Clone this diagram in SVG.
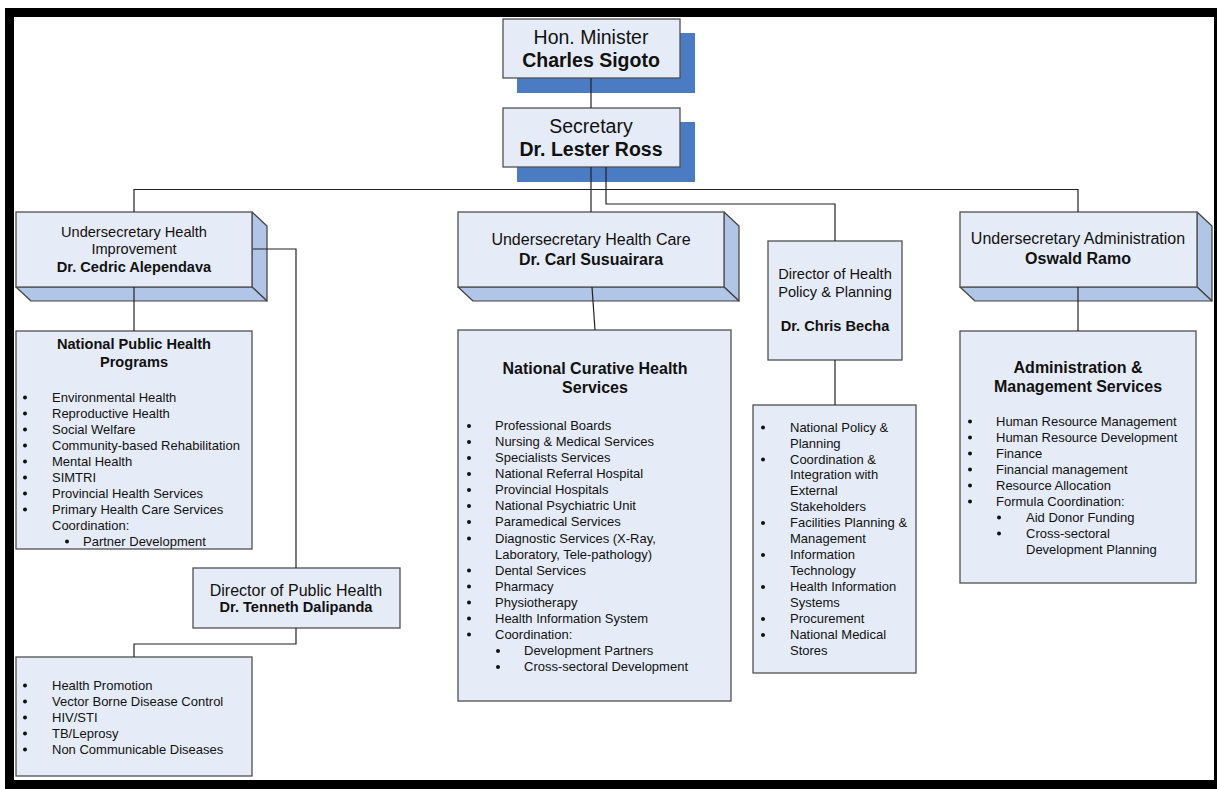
<svg xmlns="http://www.w3.org/2000/svg" width="1217" height="789" viewBox="0 0 1217 789">
<style>
text{font-family:"Liberation Sans",Arial,Helvetica,sans-serif;fill:#111}
.c{text-anchor:middle}
.b{font-weight:bold}
.li{font-size:13px}
.box{fill:#E6ECF7;stroke:#505050;stroke-width:1.3}
.side{fill:#B1C5E6;stroke:#404040;stroke-width:1.2;stroke-linejoin:round}
.sh{fill:#4A7BC3}
.ln{fill:none;stroke:#222;stroke-width:1.2}
.dot{fill:#111}
</style>
<defs>
<circle id="bu" r="2" class="dot"/>
</defs>
<rect x="0" y="0" width="1217" height="789" fill="#fff"/>
<rect x="9.5" y="12.5" width="1209" height="772" fill="none" stroke="#000" stroke-width="9"/>

<g id="minister">
<rect class="sh" x="517" y="33" width="178" height="60"/>
<rect class="box" x="503" y="19" width="177" height="59"/>
<text class="c" x="591" y="44" font-size="19.5">Hon. Minister</text>
<text class="c b" x="591" y="67" font-size="19.5">Charles Sigoto</text>
</g>

<g id="secretary">
<rect class="sh" x="517" y="122" width="178" height="60"/>
<rect class="box" x="503" y="108" width="177" height="59"/>
<text class="c" x="591" y="133" font-size="19.5">Secretary</text>
<text class="c b" x="591" y="156" font-size="19.5">Dr. Lester Ross</text>
</g>

<g id="us-health-improvement">
<polygon class="side" points="252,212 267,226 267,301 252,287"/>
<polygon class="side" points="16,287 252,287 267,301 31,301"/>
<rect class="box" x="16" y="212" width="236" height="75"/>
<text class="c" x="134" y="237" font-size="14.6">Undersecretary Health</text>
<text class="c" x="134" y="254" font-size="14.6">Improvement</text>
<text class="c b" x="134" y="272" font-size="14.6">Dr. Cedric Alependava</text>
</g>

<g id="us-health-care">
<polygon class="side" points="724,212 739,226 739,301 724,287"/>
<polygon class="side" points="458,287 724,287 739,301 473,301"/>
<rect class="box" x="458" y="212" width="266" height="75"/>
<text class="c" x="591" y="244.5" font-size="16">Undersecretary Health Care</text>
<text class="c b" x="591" y="264.5" font-size="16">Dr. Carl Susuairara</text>
</g>

<g id="us-administration">
<polygon class="side" points="1197,212 1212,226 1212,301 1197,287"/>
<polygon class="side" points="960,287 1197,287 1212,301 975,301"/>
<rect class="box" x="960" y="212" width="237" height="75"/>
<text class="c" x="1078" y="243.5" font-size="16">Undersecretary Administration</text>
<text class="c b" x="1078" y="263.5" font-size="16">Oswald Ramo</text>
</g>

<g id="dir-health-policy">
<rect class="box" x="768" y="241" width="134" height="119"/>
<text class="c" x="835" y="279" font-size="14.6">Director of Health</text>
<text class="c" x="835" y="297" font-size="14.6">Policy &amp; Planning</text>
<text class="c b" x="835" y="331" font-size="14.6">Dr. Chris Becha</text>
</g>

<g id="national-public-health">
<rect class="box" x="16" y="331" width="236" height="218"/>
<text class="c b" x="134" y="349" font-size="14.6">National Public Health</text>
<text class="c b" x="134" y="367" font-size="14.6">Programs</text>
<use href="#bu" x="25" y="397.5"/><text class="li" x="52" y="401.5">Environmental Health</text>
<use href="#bu" x="25" y="413.5"/><text class="li" x="52" y="417.5">Reproductive Health</text>
<use href="#bu" x="25" y="429.5"/><text class="li" x="52" y="433.5">Social Welfare</text>
<use href="#bu" x="25" y="445.5"/><text class="li" x="52" y="449.5">Community-based Rehabilitation</text>
<use href="#bu" x="25" y="461.5"/><text class="li" x="52" y="465.5">Mental Health</text>
<use href="#bu" x="25" y="477.5"/><text class="li" x="52" y="481.5">SIMTRI</text>
<use href="#bu" x="25" y="493.5"/><text class="li" x="52" y="497.5">Provincial Health Services</text>
<use href="#bu" x="25" y="509.5"/><text class="li" x="52" y="513.5">Primary Health Care Services</text>
<text class="li" x="52" y="529.5">Coordination:</text>
<use href="#bu" x="67" y="541.5"/><text class="li" x="83" y="545.5">Partner Development</text>
</g>

<g id="dir-public-health">
<rect class="box" x="193" y="568" width="207" height="60"/>
<text class="c" x="296" y="595.5" font-size="16">Director of Public Health</text>
<text class="c b" x="296" y="612" font-size="14.6">Dr. Tenneth Dalipanda</text>
</g>

<g id="public-health-programs">
<rect class="box" x="16" y="657" width="236" height="119"/>
<use href="#bu" x="25" y="685.5"/><text class="li" x="52" y="689.5">Health Promotion</text>
<use href="#bu" x="25" y="701.5"/><text class="li" x="52" y="705.5">Vector Borne Disease Control</text>
<use href="#bu" x="25" y="717.5"/><text class="li" x="52" y="721.5">HIV/STI</text>
<use href="#bu" x="25" y="733.5"/><text class="li" x="52" y="737.5">TB/Leprosy</text>
<use href="#bu" x="25" y="749.5"/><text class="li" x="52" y="753.5">Non Communicable Diseases</text>
</g>

<g id="national-curative">
<rect class="box" x="458" y="330" width="273" height="371"/>
<text class="c b" x="595" y="373.5" font-size="16">National Curative Health</text>
<text class="c b" x="595" y="392.5" font-size="16">Services</text>
<use href="#bu" x="469" y="426"/><text class="li" x="495" y="430">Professional Boards</text>
<use href="#bu" x="469" y="442"/><text class="li" x="495" y="446">Nursing &amp; Medical Services</text>
<use href="#bu" x="469" y="458"/><text class="li" x="495" y="462">Specialists Services</text>
<use href="#bu" x="469" y="474"/><text class="li" x="495" y="478">National Referral Hospital</text>
<use href="#bu" x="469" y="490"/><text class="li" x="495" y="494">Provincial Hospitals</text>
<use href="#bu" x="469" y="506"/><text class="li" x="495" y="510">National Psychiatric Unit</text>
<use href="#bu" x="469" y="522"/><text class="li" x="495" y="526">Paramedical Services</text>
<use href="#bu" x="469" y="538.5"/><text class="li" x="495" y="542.5">Diagnostic Services (X-Ray,</text>
<text class="li" x="495" y="558.5">Laboratory, Tele-pathology)</text>
<use href="#bu" x="469" y="570.5"/><text class="li" x="495" y="574.5">Dental Services</text>
<use href="#bu" x="469" y="586.5"/><text class="li" x="495" y="590.5">Pharmacy</text>
<use href="#bu" x="469" y="602.5"/><text class="li" x="495" y="606.5">Physiotherapy</text>
<use href="#bu" x="469" y="618.5"/><text class="li" x="495" y="622.5">Health Information System</text>
<use href="#bu" x="469" y="634.5"/><text class="li" x="495" y="638.5">Coordination:</text>
<use href="#bu" x="498" y="651"/><text class="li" x="524" y="655">Development Partners</text>
<use href="#bu" x="498" y="667"/><text class="li" x="524" y="671">Cross-sectoral Development</text>
</g>

<g id="policy-planning-services">
<rect class="box" x="753" y="405" width="163" height="268"/>
<use href="#bu" x="763" y="427.5"/><text class="li" x="790" y="431.5">National Policy &amp;</text>
<text class="li" x="790" y="447.5">Planning</text>
<use href="#bu" x="763" y="459.5"/><text class="li" x="790" y="463.5">Coordination &amp;</text>
<text class="li" x="790" y="479">Integration with</text>
<text class="li" x="790" y="495">External</text>
<text class="li" x="790" y="511">Stakeholders</text>
<use href="#bu" x="763" y="523"/><text class="li" x="790" y="527">Facilities Planning &amp;</text>
<text class="li" x="790" y="543">Management</text>
<use href="#bu" x="763" y="555"/><text class="li" x="790" y="559">Information</text>
<text class="li" x="790" y="575">Technology</text>
<use href="#bu" x="763" y="587"/><text class="li" x="790" y="591">Health Information</text>
<text class="li" x="790" y="607">Systems</text>
<use href="#bu" x="763" y="619"/><text class="li" x="790" y="623">Procurement</text>
<use href="#bu" x="763" y="635"/><text class="li" x="790" y="639">National Medical</text>
<text class="li" x="790" y="655">Stores</text>
</g>

<g id="admin-management">
<rect class="box" x="960" y="331" width="236" height="252"/>
<text class="c b" x="1078" y="372.5" font-size="16">Administration &amp;</text>
<text class="c b" x="1078" y="391.5" font-size="16">Management Services</text>
<use href="#bu" x="970" y="421.5"/><text class="li" x="996" y="425.5">Human Resource Management</text>
<use href="#bu" x="970" y="437.5"/><text class="li" x="996" y="441.5">Human Resource Development</text>
<use href="#bu" x="970" y="453.5"/><text class="li" x="996" y="457.5">Finance</text>
<use href="#bu" x="970" y="469.5"/><text class="li" x="996" y="473.5">Financial management</text>
<use href="#bu" x="970" y="485.5"/><text class="li" x="996" y="489.5">Resource Allocation</text>
<use href="#bu" x="970" y="501.5"/><text class="li" x="996" y="505.5">Formula Coordination:</text>
<use href="#bu" x="999" y="517.5"/><text class="li" x="1026" y="521.5">Aid Donor Funding</text>
<use href="#bu" x="999" y="533.5"/><text class="li" x="1026" y="537.5">Cross-sectoral</text>
<text class="li" x="1026" y="553.5">Development Planning</text>
</g>

<g id="connectors">
<path class="ln" d="M591,78 V108"/>
<path class="ln" d="M591,167 V212"/>
<path class="ln" d="M134,212 V189.5 H1078 V212"/>
<path class="ln" d="M606,167 V204 H835 V241"/>
<path class="ln" d="M134,287 V331"/>
<path class="ln" d="M592,287 L595,330"/>
<path class="ln" d="M835,360 V405"/>
<path class="ln" d="M1078,287 V331"/>
<path class="ln" d="M253,249 H296 V568"/>
<path class="ln" d="M296,628 V644 H134 V657"/>
</g>
</svg>
